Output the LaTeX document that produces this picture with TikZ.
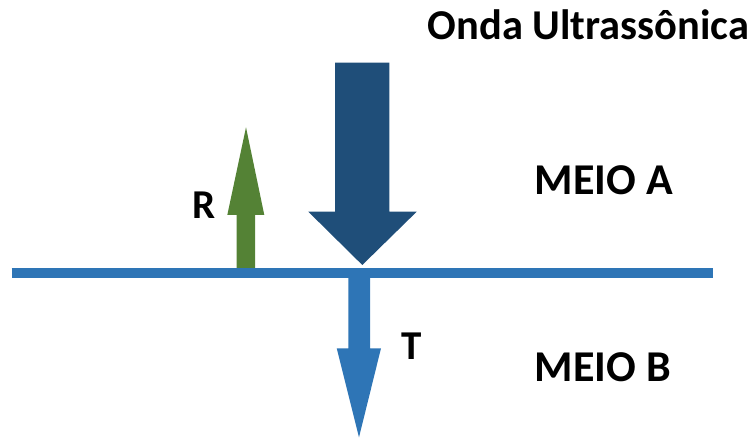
\documentclass[tikz,border=0pt]{standalone}
\usepackage{fontspec}
\setmainfont{Carlito}
\definecolor{darkblue}{RGB}{31,78,121}
\definecolor{midblue}{RGB}{46,117,182}
\definecolor{leafgreen}{RGB}{84,130,53}
\begin{document}
\begin{tikzpicture}[x=1pt,y=1pt,
  lbl/.style={inner sep=0pt,anchor=base west,font=\bfseries},
  titlelbl/.style={lbl,font=\fontsize{42.5}{48}\selectfont\bfseries},
  medlbl/.style={lbl,font=\fontsize{44}{50}\selectfont\bfseries},
  arrlbl/.style={lbl,font=\fontsize{41}{46}\selectfont\bfseries}]
\useasboundingbox (0,0) rectangle (756,438);
% interface line
\coordinate (lineL) at (11.7,164.7);
\coordinate (lineR) at (713.3,164.7);
\draw[midblue,line width=10pt] (lineL) -- (lineR);
% incident wave
\fill[darkblue] (335,375.3) -- (389.3,375.3) -- (389.3,226.3) -- (416.7,226.3)
  -- (362.3,173) -- (308.3,226.3) -- (335,226.3) -- cycle;
% reflected wave
\fill[leafgreen] (236.7,170) -- (255,170) -- (255,223) -- (264.3,223)
  -- (246,310.7) -- (227.3,223) -- (236.7,223) -- cycle;
% transmitted wave
\fill[midblue] (348.3,164.7) -- (370,164.7) -- (370,89.7) -- (381,89.7)
  -- (359,0.7) -- (336.7,89.7) -- (348.3,89.7) -- cycle;
% labels
\node[titlelbl] (title) at (427.5,398) {Onda Ultrassônica};
\node[medlbl] (meioa) at (534.5,243) {MEIO A};
\node[medlbl] (meiob) at (534.5,56.3) {MEIO B};
\node[arrlbl] (r) at (192.5,219) {R};
\node[arrlbl] (t) at (401,78) {T};
\end{tikzpicture}
\end{document}
